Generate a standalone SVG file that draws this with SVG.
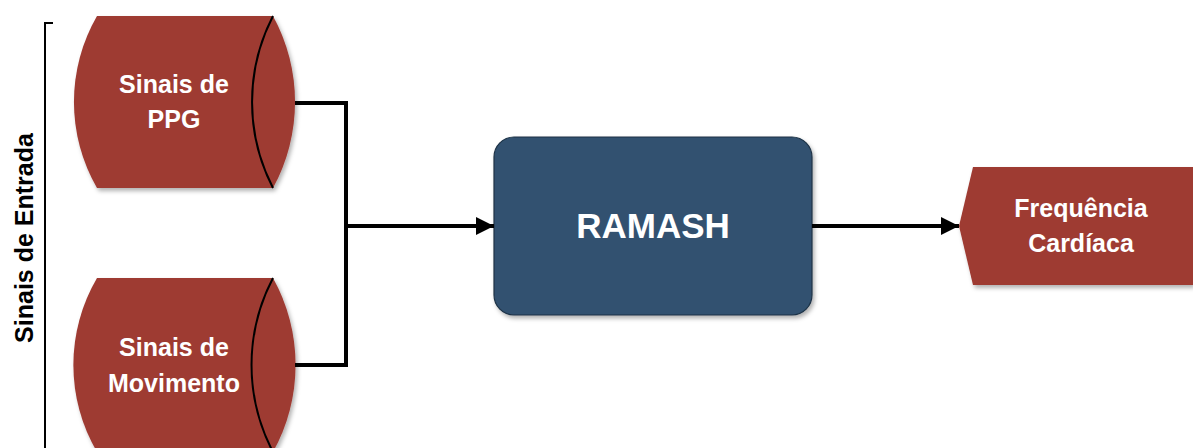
<svg xmlns="http://www.w3.org/2000/svg" width="1193" height="448" viewBox="0 0 1193 448">
  <style>
    .store { fill: #9E3A32; filter: url(#shadow); }
    .face { fill: none; stroke: #000; stroke-width: 2; }
    .label { font-family: "Liberation Sans", Arial, sans-serif; font-weight: bold; fill: #fff; text-anchor: middle; }
    .wire { fill: none; stroke: #000; stroke-width: 4; stroke-linejoin: miter; }
    .side { font-family: "Liberation Sans", Arial, sans-serif; font-weight: bold; fill: #000; text-anchor: middle; }
  </style>
  <defs>
    <filter id="shadow" x="-10%" y="-10%" width="125%" height="125%">
      <feDropShadow dx="2" dy="3" stdDeviation="2" flood-color="#000" flood-opacity="0.3"/>
    </filter>
    <marker id="head" markerUnits="userSpaceOnUse" markerWidth="18" markerHeight="18" refX="18" refY="9" orient="auto">
      <path d="M0,0 L18,9 L0,18 z" fill="#000"/>
    </marker>
  </defs>

  <rect width="1193" height="448" fill="#fff"/>

  <!-- bracket grouping the inputs -->
  <g id="input-group">
    <path d="M53,23 H45 V448" fill="none" stroke="#000" stroke-width="2"/>
    <text class="side" font-size="25" transform="translate(33,238) rotate(-90)">Sinais de Entrada</text>
  </g>

  <!-- input storage: PPG -->
  <g id="ppg">
    <path class="store" d="M97,16 H273 A179,179 0 0 1 273,188 H97 A172,172 0 0 1 97,16 Z"/>
    <path class="face" d="M273,16 A187,187 0 0 0 273,188"/>
    <text class="label" font-size="25" x="174" y="93">Sinais de</text>
    <text class="label" font-size="25" x="174" y="128">PPG</text>
  </g>

  <!-- input storage: motion -->
  <g id="movimento">
    <path class="store" d="M97,278 H273 A179,179 0 0 1 273,452 H97 A172,172 0 0 1 97,278 Z"/>
    <path class="face" d="M273,278 A187,187 0 0 0 273,452"/>
    <text class="label" font-size="25" x="174" y="356">Sinais de</text>
    <text class="label" font-size="25" x="174" y="392">Movimento</text>
  </g>

  <!-- processing block -->
  <g id="ramash">
    <rect x="494" y="137" width="318" height="178" rx="20" ry="20" fill="#30516F" stroke="#1F3347" stroke-width="1.2" filter="url(#shadow)"/>
    <text class="label" font-size="35" x="653" y="238">RAMASH</text>
  </g>

  <!-- output -->
  <g id="frequencia">
    <path class="store" d="M959,226 L973,167 H1193 V285 H973 Z"/>
    <text class="label" font-size="25" x="1081" y="217">Frequência</text>
    <text class="label" font-size="25" x="1081" y="252">Cardíaca</text>
  </g>

  <!-- connectors -->
  <g id="connectors">
    <polyline class="wire" points="295,103 346,103 346,365 295,365"/>
    <line class="wire" x1="344" y1="226" x2="494" y2="226" marker-end="url(#head)"/>
    <line class="wire" x1="812" y1="226" x2="959" y2="226" marker-end="url(#head)"/>
  </g>
</svg>
